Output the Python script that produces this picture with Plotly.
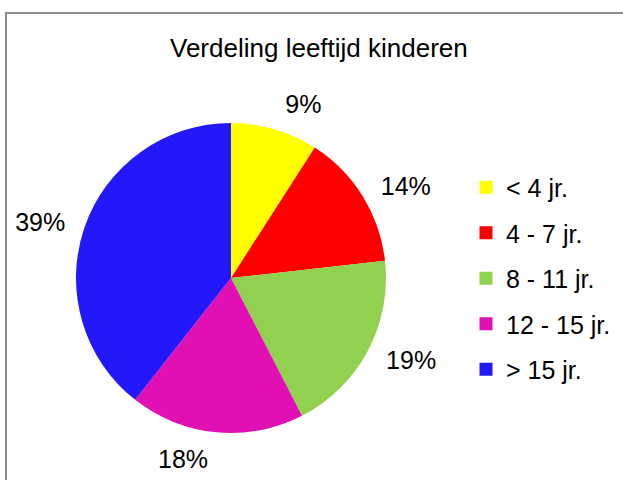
import plotly.graph_objects as go

categories = ["< 4 jr.", "4 - 7 jr.", "8 - 11 jr.", "12 - 15 jr.", "> 15 jr."]
values = [9, 14, 19, 18, 39]
colors = ["#FFFF00", "#FF0000", "#92D050", "#E010B4", "#2318FA"]
title_text = "Verdeling leeftijd kinderen"

FONT = "Liberation Sans, Arial, sans-serif"
FS = 25
W, H = 623, 480
CX, CY, R = 231, 278, 155      # pie centre / radius in pixels
RL = 168                       # radius of the label-carrying (invisible) pie

fig = go.Figure()
# visible pie
fig.add_trace(go.Pie(
    labels=categories, values=values, sort=False, direction="clockwise",
    rotation=0, marker=dict(colors=colors, line=dict(width=0)),
    textinfo="none", showlegend=False, hoverinfo="label+value",
    domain=dict(x=[(CX - R) / W, (CX + R) / W], y=[1 - (CY + R) / H, 1 - (CY - R) / H]),
))
# transparent, slightly larger pie that carries the outside labels
fig.add_trace(go.Pie(
    labels=categories, values=values, sort=False, direction="clockwise",
    rotation=0, marker=dict(colors=["rgba(0,0,0,0)"] * len(values), line=dict(width=0)),
    texttemplate="%{value}%", textposition="outside",
    textfont=dict(family=FONT, size=FS, color="#000000"),
    showlegend=False, hoverinfo="skip",
    domain=dict(x=[(CX - RL) / W, (CX + RL) / W], y=[1 - (CY + RL) / H, 1 - (CY - RL) / H]),
))

for i, (c, col) in enumerate(zip(categories, colors)):
    fig.add_trace(go.Scatter(
        x=[None], y=[None], mode="markers", name=c,
        marker=dict(symbol="square", size=13, color=col),
        legendgroup=f"g{i}", showlegend=True,
    ))

fig.update_layout(
    width=W, height=H,
    margin=dict(l=0, r=0, t=0, b=0),
    paper_bgcolor="white", plot_bgcolor="white",
    xaxis=dict(visible=False), yaxis=dict(visible=False),
    font=dict(family=FONT, color="#000000"),
    showlegend=True,
    legend=dict(x=466 / W, y=1 - 164.5 / H, xanchor="left", yanchor="top",
                font=dict(family=FONT, size=FS), tracegroupgap=10,
                bgcolor="rgba(0,0,0,0)"),
    annotations=[dict(text=title_text, x=319 / W, y=1 - 48 / H, xref="paper", yref="paper",
                      showarrow=False, xanchor="center", yanchor="middle",
                      font=dict(family=FONT, size=26, color="#000000"))],
    shapes=[dict(type="rect", xref="paper", yref="paper", x0=6 / W, x1=1.05,
                 y0=-0.05, y1=1 - 13 / H, line=dict(color="#8C8C8C", width=2))],
)

fig.write_html("out.html", config={"displayModeBar": False},
               post_script="document.body.style.margin='0';")
